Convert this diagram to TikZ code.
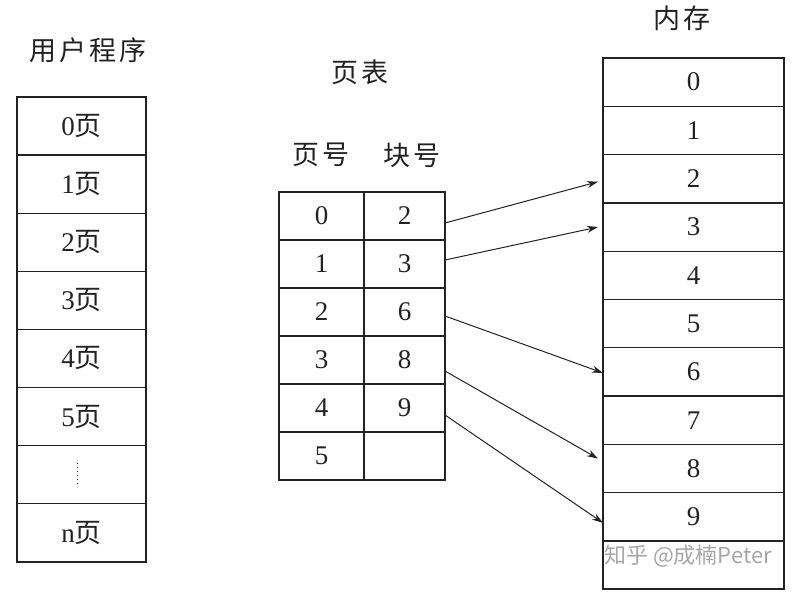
\documentclass[tikz,border=0pt]{standalone}
\usepackage{fontspec}
\setmainfont{Liberation Serif}
\newfontfamily\cjk{Noto Sans CJK SC}
\newfontfamily\cjkw{Noto Sans CJK SC}[LetterSpace=10]
\usetikzlibrary{arrows.meta,calc}
\definecolor{ink}{HTML}{222222}
\tikzset{
  cell/.style={draw=ink, line width=1.3pt, inner sep=0pt, outer sep=0pt, anchor=north west,
    font=\fontsize{27}{27}\selectfont, text=ink},
  ucell/.style={cell, minimum width=129pt, minimum height=58.1pt},
  pcell/.style={cell, minimum width=85pt, minimum height=48pt},
  bcell/.style={cell, minimum width=81pt, minimum height=48pt},
  mcell/.style={cell, minimum width=181pt, minimum height=48.3pt},
  title/.style={font=\cjkw\fontsize{27}{27}\selectfont, text=ink},
  outer/.style={draw=ink, line width=2.2pt},
  link/.style={draw=ink, line width=1pt, -{Stealth[length=11pt,width=7pt]}},
}
\begin{document}
\begin{tikzpicture}[x=1pt,y=-1pt]
\useasboundingbox (0,0) rectangle (798,592);
% titles
\node[title] (tu) at (88,50) {用户程序};
\node[title] (tp) at (360,72) {页表};
\node[title] (th1) at (321,155) {页号};
\node[title] (th2) at (412,155) {块号};
\node[title] (tm) at (682,18) {内存};
% user program
\foreach \i/\t in {0/0,1/1,2/2,3/3,4/4,5/5}{
  \node[ucell] (u\i) at (17,{97+58.1*\i}) {\t{\cjk 页}};
}
\node[ucell] (u6) at (17,{97+58.1*6}) {};
\draw[ink, line width=1.6pt, dash pattern=on 1.6pt off 2.4pt] ($(u6.center)+(-4,-12)$) -- ($(u6.center)+(-4,12)$);
\node[ucell] (u7) at (17,{97+58.1*7}) {n{\cjk 页}};
\draw[outer] (u0.north west) rectangle (u7.south east);
% page table
\foreach \i/\b in {0/2,1/3,2/6,3/8,4/9,5/{}}{
  \node[pcell] (p\i) at (279,{192+48*\i}) {\i};
  \node[bcell] (b\i) at (364,{192+48*\i}) {\b};
}
\draw[outer] (p0.north west) rectangle (b5.south east);
% memory
\foreach \i in {0,...,9}{
  \node[mcell] (m\i) at (603,{58+48.3*\i}) {\i};
}
\node[mcell] (m10) at (603,{58+48.3*10}) {};
\draw[outer] (m0.north west) rectangle (m10.south east);
% links
\draw[link] ([yshift=-7pt]b0.east) -- ([yshift=-3pt,xshift=-5pt]m2.west);
\draw[link] ([yshift=4pt]b1.east) -- ([yshift=0pt,xshift=-5pt]m3.west);
\draw[link] ([yshift=-4pt]b2.east) -- ([yshift=-1pt]m6.west);
\draw[link] ([yshift=-11pt]b3.east) -- ([yshift=10pt,xshift=-5pt]m8.west);
\draw[link] ([yshift=-7pt]b4.east) -- ([yshift=-6pt]m9.west);
% watermark
\node[font=\cjk\fontsize{22}{22}\selectfont, text=black!35] (wm) at (688,556) {知乎 @成楠Peter};
\end{tikzpicture}
\end{document}
